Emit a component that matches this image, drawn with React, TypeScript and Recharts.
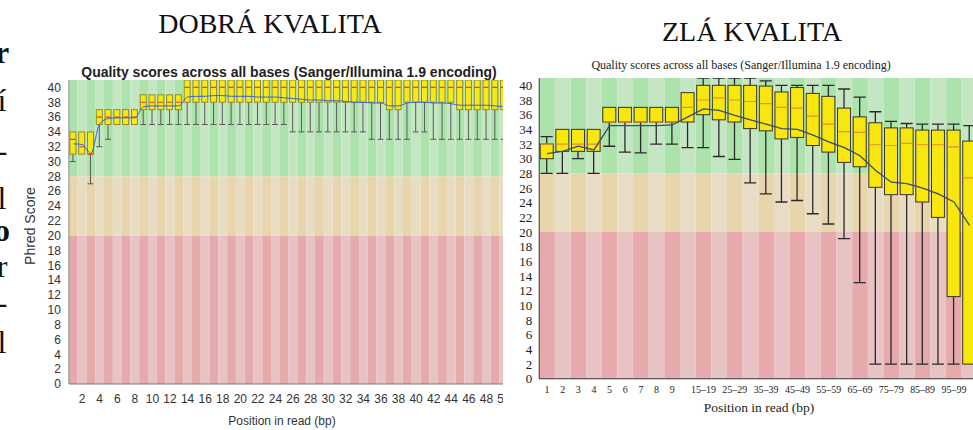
import React from 'react';
import { ComposedChart, Bar, Line, XAxis, YAxis, ReferenceArea } from 'recharts';

// left panel: good run, one box per base position
const goodPositions = [
  '1', '2', '3', '4', '5', '6', '7', '8', '9', '10', '11', '12', '13', '14', '15', '16', '17',
  '18', '19', '20', '21', '22', '23', '24', '25', '26', '27', '28', '29', '30', '31', '32', '33',
  '34', '35', '36', '37', '38', '39', '40', '41', '42', '43', '44', '45', '46', '47', '48', '49', '50',
];
const goodLow = [
  30, 31, 27, 32, 33, 35, 35, 35, 35, 35, 35, 35, 35, 35, 35, 35, 35, 35, 35, 35, 35, 35, 35, 35, 35,
  34, 34, 34, 34, 34, 34, 34, 34, 34, 33, 33, 33, 33, 33, 34, 34, 33, 33, 33, 33, 33, 33, 33, 33, 33,
];
const goodQ1 = [
  31, 31, 31, 35, 35, 35, 35, 35, 37, 37, 37, 37, 37, 38, 38, 38, 38, 38, 38, 38, 38, 38, 38, 38, 38,
  38, 38, 38, 38, 38, 38, 38, 38, 38, 38, 38, 37, 37, 38, 38, 38, 38, 38, 38, 37, 37, 37, 37, 37, 37,
];
const goodMedian = [
  33, 32, 31, 36, 36, 36, 36, 36, 38, 38, 38, 38, 38, 40, 40, 40, 40, 40, 40, 40, 40, 40, 40, 40, 40,
  40, 40, 40, 40, 40, 40, 40, 40, 40, 40, 40, 40, 40, 40, 40, 40, 40, 40, 40, 40, 40, 40, 40, 40, 40,
];
const goodQ3 = [
  34, 34, 34, 37, 37, 37, 37, 37, 39, 39, 39, 39, 39, 41, 41, 41, 41, 41, 41, 41, 41, 41, 41, 41, 41,
  41, 41, 41, 41, 41, 41, 41, 41, 41, 41, 41, 41, 41, 41, 41, 41, 41, 41, 41, 41, 41, 41, 41, 41, 41,
];
const goodHigh = goodQ3;
const goodMean = [
  32.4, 32.3, 31.1, 35.1, 35.8, 35.9, 35.9, 35.9, 37.4, 37.5, 37.5, 37.5, 37.5, 38.7, 38.8, 38.8, 38.9,
  38.9, 38.8, 38.8, 38.8, 38.7, 38.7, 38.7, 38.6, 38.5, 38.4, 38.3, 38.3, 38.2, 38.2, 38.1, 38.0, 38.0,
  37.9, 37.9, 37.5, 37.5, 37.9, 38.0, 38.0, 37.9, 37.9, 37.8, 37.6, 37.6, 37.6, 37.6, 37.5, 37.4,
];

// right panel: bad run, binned positions
const badPositions = [
  '1', '2', '3', '4', '5', '6', '7', '8', '9', '10–14', '15–19', '20–24', '25–29', '30–34', '35–39',
  '40–44', '45–49', '50–54', '55–59', '60–64', '65–69', '70–74', '75–79', '80–84', '85–89', '90–94',
  '95–99', '100–101',
];
const badTickLabels = [
  '1', '2', '3', '4', '5', '6', '7', '8', '9', '15–19', '25–29', '35–39', '45–49', '55–59', '65–69',
  '75–79', '85–89', '95–99',
];
const badLow = [
  28, 28, 30, 28, 31.7, 30.9, 30.8, 32, 32, 31.5, 31.5, 30.3, 29.9, 26.7, 25.2, 24.1, 24.3, 22.5, 21.1,
  19.1, 13.1, 2, 2, 2, 2, 2, 2, 2,
];
const badQ1 = [
  30, 31, 31, 31, 35, 35, 35, 35, 35, 35, 36, 35.3, 35, 34.1, 33.8, 32.7, 32.9, 31.8, 30.9, 29.5, 28.9,
  26.1, 25.1, 25.1, 24.1, 22, 11.2, 2,
];
const badMedian = [
  32, 32, 32, 32, 35, 35, 35, 35, 35, 37, 38, 38.3, 38, 37.8, 37.5, 37, 36.9, 35.8, 34.7, 33.7, 33.6,
  31.9, 31.8, 32.1, 31.9, 31.9, 31.6, 27.4,
];
const badQ3 = [
  32, 34, 34, 34, 37, 37, 37, 37, 37, 39, 40, 40, 40, 40, 39.9, 39.1, 39.7, 38.9, 38.5, 36.9, 35.7,
  34.9, 34.2, 34.2, 33.9, 33.9, 33.9, 32.4,
];
const badHigh = [
  33, 34, 34, 34, 37, 37, 37, 37, 37, 39, 41, 41, 41, 41, 40.6, 40, 40, 40, 40, 39.5, 38.4, 36.4, 35.1,
  34.8, 34.7, 34.7, 34.7, 34.5,
];
const badMean = [
  30.7, 31.0, 31.7, 31.2, 34.5, 34.5, 34.5, 34.5, 34.6, 35.7, 36.8, 36.6, 35.9, 35.3, 34.7, 34.1, 34.0,
  33.2, 32.3, 31.5, 30.4, 28.4, 26.8, 26.6, 26.0, 25.2, 24.1, 20.9,
];

const phredTicks = [0, 2, 4, 6, 8, 10, 12, 14, 16, 18, 20, 22, 24, 26, 28, 30, 32, 34, 36, 38, 40];

const zones = [
  { from: 28, to: 41, dark: '#ace2ab', light: '#c5e6c3' },
  { from: 20, to: 28, dark: '#e8d5ab', light: '#e8dcc4' },
  { from: 0, to: 20, dark: '#e6aaad', light: '#e7c3c3' },
];

const buildRows = (
  positions: string[], low: number[], q1: number[], median: number[], q3: number[], high: number[], mean: number[],
) => positions.map((pos, i) => ({ pos, low: low[i], q1: q1[i], median: median[i], q3: q3[i], high: high[i], mean: mean[i] }));

const goodRows = buildRows(goodPositions, goodLow, goodQ1, goodMedian, goodQ3, goodHigh, goodMean);
const badRows = buildRows(badPositions, badLow, badQ1, badMedian, badQ3, badHigh, badMean);

type Look = { fill: string; stroke: string; median: string; whisker: string; cap: number; lw: number };

const goodLook: Look = { fill: '#f6ea14', stroke: '#938b2c', median: '#e0401c', whisker: '#5a5a5a', cap: 6, lw: 1 };
const badLook: Look = { fill: '#f7e70e', stroke: '#3a3420', median: '#e6902a', whisker: '#2a2a2a', cap: 12, lw: 1.3 };

// the bar spans low..high; everything else is placed on the same linear mapping
const makeBox = (look: Look) => (props: any) => {
  const { x, y, width, height, payload } = props;
  if (!payload || !height) return <g />;
  const { low, q1, median, q3, high } = payload;
  const toY = (v: number) => y + (height * (high - v)) / (high - low);
  const cx = x + width / 2;
  const top = toY(q3);
  const bottom = toY(q1);
  const mid = toY(median);
  return (
    <g>
      <line x1={cx} x2={cx} y1={y} y2={y + height} stroke={look.whisker} strokeWidth={look.lw} />
      {high > q3 && (
        <line x1={cx - look.cap / 2} x2={cx + look.cap / 2} y1={y} y2={y} stroke={look.whisker} strokeWidth={look.lw} />
      )}
      {low < q1 && (
        <line x1={cx - look.cap / 2} x2={cx + look.cap / 2} y1={y + height} y2={y + height} stroke={look.whisker} strokeWidth={look.lw} />
      )}
      <rect x={x} y={top} width={width} height={bottom - top} fill={look.fill} stroke={look.stroke} strokeWidth={1} />
      <line x1={x + 0.5} x2={x + width - 0.5} y1={mid} y2={mid} stroke={look.median} strokeWidth={1.2} />
    </g>
  );
};

const stripes = (positions: string[]) =>
  zones.flatMap((z) =>
    positions.map((pos, i) => (
      <ReferenceArea
        key={`${z.from}-${pos}`}
        x1={pos}
        x2={pos}
        y1={z.from}
        y2={z.to}
        fill={i % 2 === 0 ? z.dark : z.light}
        fillOpacity={1}
        stroke="none"
        ifOverflow="visible"
      />
    )),
  );

function Caption({ x, y, size, family, bold, rotate, color, children }: any) {
  return (
    <div
      style={{
        position: 'absolute',
        left: x,
        top: y,
        transform: `translate(-50%, -50%)${rotate ? ' rotate(-90deg)' : ''}`,
        whiteSpace: 'nowrap',
        fontSize: size,
        lineHeight: 1,
        fontFamily: family,
        fontWeight: bold ? 700 : 400,
        color: color || '#111',
      }}
    >
      {children}
    </div>
  );
}

// bits of slide text cut off at the left border (only their right halves show)
const edgeGlyphs = [
  { ch: 'r', top: 38, bold: true },
  { ch: 'í', top: 86 },
  { ch: '-', top: 136 },
  { ch: 'l', top: 184 },
  { ch: 'o', top: 216, bold: true },
  { ch: 'r', top: 252 },
  { ch: '-', top: 288 },
  { ch: 'l', top: 328 },
];

const sans = '"Liberation Sans", Arial, sans-serif';
const serif = '"Liberation Serif", "Times New Roman", serif';

export default function App() {
  return (
    <div style={{ position: 'absolute', left: 0, top: 0, width: 973, height: 430, overflow: 'hidden', background: '#fff' }}>
      <div style={{ position: 'absolute', left: 0, top: 0, width: 10, height: 430, overflow: 'hidden' }}>
        {edgeGlyphs.map((g, i) => (
          <span
            key={i}
            style={{
              position: 'absolute',
              left: 2,
              top: g.top,
              transform: 'translateX(-50%)',
              fontFamily: serif,
              fontSize: 32,
              lineHeight: '28px',
              fontWeight: g.bold ? 700 : 400,
              color: '#111',
            }}
          >
            {g.ch}
          </span>
        ))}
      </div>

      <Caption x={270} y={24} size={28} family={serif}>DOBRÁ KVALITA</Caption>
      <Caption x={752} y={32} size={28} family={serif}>ZLÁ KVALITA</Caption>

      <div style={{ position: 'absolute', left: 0, top: 0, width: 503, height: 430, overflow: 'hidden' }}>
        <ComposedChart width={508.4} height={430} data={goodRows} margin={{ top: 80, right: 0, bottom: 0, left: 0 }}>
          {stripes(goodPositions)}
          <XAxis
            dataKey="pos"
            interval={0}
            height={46}
            tickLine={false}
            tickSize={6}
            tickMargin={4}
            axisLine={{ stroke: '#7a7a7a' }}
            tick={{ fill: '#333', fontSize: 12, fontFamily: sans }}
            tickFormatter={(v: string) => (Number(v) % 2 === 0 ? v : '')}
          />
          <YAxis
            type="number"
            domain={[0, 41]}
            ticks={phredTicks}
            interval={0}
            width={68.9}
            tickLine={false}
            tickSize={6}
            tickMargin={2}
            axisLine={{ stroke: '#8a8a8a' }}
            tick={{ fill: '#333', fontSize: 12, fontFamily: sans }}
            allowDataOverflow
          />
          <Bar dataKey={(d: any) => [d.low, d.high]} barSize={6} shape={makeBox(goodLook)} isAnimationActive={false} />
          <Line type="monotone" dataKey="mean" stroke="#3d5fd6" strokeWidth={1} dot={false} isAnimationActive={false} />
        </ComposedChart>
      </div>

      <Caption x={289} y={72} size={14} family={sans} bold color="#222">
        Quality scores across all bases (Sanger/Illumina 1.9 encoding)
      </Caption>
      <Caption x={30} y={226} size={14} family={sans} rotate color="#333">Phred Score</Caption>
      <Caption x={282} y={421} size={12} family={sans} color="#333">Position in read (bp)</Caption>

      <div style={{ position: 'absolute', left: 505, top: 0, width: 468, height: 430, overflow: 'hidden' }}>
        <ComposedChart width={472.4} height={430} data={badRows} margin={{ top: 78, right: 0, bottom: 0, left: 0 }}>
          {stripes(badPositions)}
          <XAxis
            dataKey="pos"
            interval={0}
            height={51.2}
            tickLine={false}
            tickSize={6}
            tickMargin={1}
            axisLine={{ stroke: '#333' }}
            tick={{ fill: '#222', fontSize: 10, fontFamily: serif }}
            tickFormatter={(v: string) => (badTickLabels.includes(v) ? v : '')}
          />
          <YAxis
            type="number"
            domain={[0, 41]}
            ticks={phredTicks}
            interval={0}
            width={34.2}
            tickLine={false}
            tickSize={6}
            tickMargin={1}
            axisLine={{ stroke: '#333' }}
            tick={{ fill: '#222', fontSize: 13, fontFamily: serif }}
            allowDataOverflow
          />
          <Bar dataKey={(d: any) => [d.low, d.high]} barSize={13} shape={makeBox(badLook)} isAnimationActive={false} />
          <Line type="linear" dataKey="mean" stroke="#3b4c68" strokeWidth={1.3} dot={false} isAnimationActive={false} />
        </ComposedChart>
      </div>

      <Caption x={741} y={65} size={12} family={serif} color="#222">
        Quality scores across all bases (Sanger/Illumina 1.9 encoding)
      </Caption>
      <Caption x={759} y={408} size={13.5} family={serif} color="#222">Position in read (bp)</Caption>
    </div>
  );
}
